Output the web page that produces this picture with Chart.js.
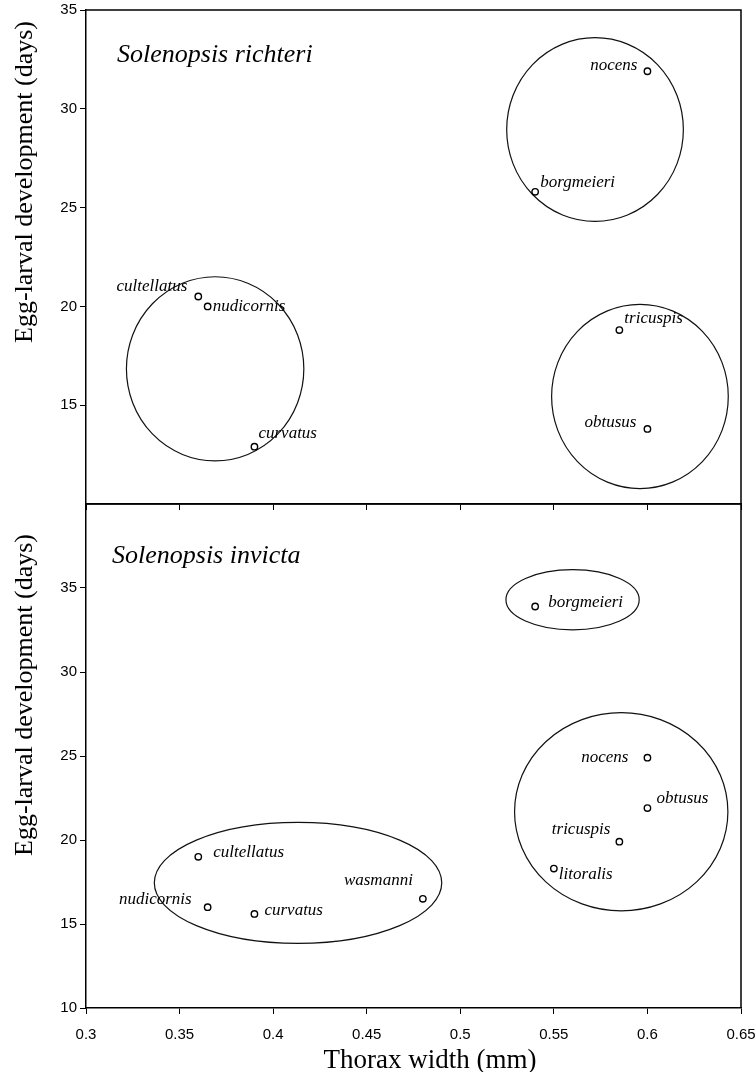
<!DOCTYPE html>
<html>
<head>
<meta charset="utf-8">
<script src="https://cdn.jsdelivr.net/npm/chart.js@4.4.1/dist/chart.umd.min.js"></script>
<style>
  html, body { margin: 0; padding: 0; background: #fff; }
  #wrap { position: relative; width: 756px; height: 1072px; overflow: hidden; }
  canvas { position: absolute; left: 0; }
  #richteriChart { top: 0; }
  #invictaChart { top: 494px; }
</style>
</head>
<body>
<div id="wrap">
  <canvas id="richteriChart" width="756" height="520"></canvas>
  <canvas id="invictaChart" width="756" height="578"></canvas>
</div>
<script>
// Solenopsis richteri (top panel)
const richteriSpecies = ['cultellatus', 'nudicornis', 'curvatus', 'nocens', 'borgmeieri', 'tricuspis', 'obtusus'];
const richteriThorax = [0.36, 0.365, 0.39, 0.6, 0.54, 0.585, 0.6];
const richteriDays = [20.5, 20.0, 12.9, 31.9, 25.8, 18.8, 13.8];

// groups circled in the top panel (centre and radii in data units)
const richteriGroupX = [0.369, 0.572, 0.596];
const richteriGroupY = [16.84, 28.95, 15.44];
const richteriGroupRx = [0.0474, 0.0472, 0.0472];
const richteriGroupRy = [4.66, 4.65, 4.66];

// Solenopsis invicta (bottom panel)
const invictaSpecies = ['borgmeieri', 'nocens', 'obtusus', 'tricuspis', 'litoralis', 'wasmanni', 'cultellatus', 'nudicornis', 'curvatus'];
const invictaThorax = [0.54, 0.6, 0.6, 0.585, 0.55, 0.48, 0.36, 0.365, 0.39];
const invictaDays = [33.9, 24.9, 21.9, 19.9, 18.3, 16.5, 19.0, 16.0, 15.6];

const invictaGroupX = [0.560, 0.586, 0.4133];
const invictaGroupY = [34.3, 21.68, 17.45];
const invictaGroupRx = [0.0356, 0.057, 0.0768];
const invictaGroupRy = [1.79, 5.9, 3.6];

const xTicks = [0.3, 0.35, 0.4, 0.45, 0.5, 0.55, 0.6, 0.65];
const richteriYTicks = [15, 20, 25, 30, 35];
const invictaYTicks = [10, 15, 20, 25, 30, 35];

// label placement next to each point (pixels)
const richteriLabelDx = [-11, 5, 4, -10, 5, 5, -11];
const richteriLabelDy = [-10, 0, -13, -6, -9, -12, -6];
const richteriLabelAlign = ['right', 'left', 'left', 'right', 'left', 'left', 'right'];

const invictaLabelDx = [13, -19, 9, -9, 5, -10, 15, -16, 10];
const invictaLabelDy = [-4, 0, -10, -12, 6, -18, -4, -8, -3];
const invictaLabelAlign = ['left', 'right', 'left', 'right', 'left', 'right', 'left', 'right', 'left'];

Chart.defaults.font.family = '"Liberation Sans", Arial, sans-serif';
Chart.defaults.font.size = 15;
Chart.defaults.color = '#000';

const serif = '"Liberation Serif", "Times New Roman", serif';

const panelDecor = {
    id: 'panelDecor',
    beforeDatasetsDraw(chart, args, opts) {
        const ctx = chart.ctx;
        const xs = chart.scales.x;
        const ys = chart.scales.y;
        ctx.save();
        ctx.strokeStyle = '#111';
        ctx.lineWidth = 1.2;
        opts.gx.forEach((gx, i) => {
            const cx = xs.getPixelForValue(gx);
            const cy = ys.getPixelForValue(opts.gy[i]);
            const rx = xs.getPixelForValue(gx + opts.grx[i]) - cx;
            const ry = cy - ys.getPixelForValue(opts.gy[i] + opts.gry[i]);
            ctx.beginPath();
            ctx.ellipse(cx, cy, rx, ry, 0, 0, Math.PI * 2);
            ctx.stroke();
        });
        ctx.restore();
    },
    afterDatasetsDraw(chart, args, opts) {
        const ctx = chart.ctx;
        const area = chart.chartArea;
        const meta = chart.getDatasetMeta(0);
        ctx.save();

        // frame: top and right sides
        ctx.strokeStyle = '#000';
        ctx.lineWidth = 1.5;
        ctx.beginPath();
        ctx.moveTo(area.left, area.top);
        ctx.lineTo(area.right, area.top);
        ctx.lineTo(area.right, area.bottom);
        ctx.stroke();

        // species names
        ctx.fillStyle = '#000';
        ctx.font = 'italic 17px ' + serif;
        ctx.textBaseline = 'middle';
        meta.data.forEach((pt, i) => {
            ctx.textAlign = opts.align[i];
            ctx.fillText(opts.names[i], pt.x + opts.dx[i], pt.y + opts.dy[i]);
        });

        // panel title
        ctx.font = 'italic 26px ' + serif;
        ctx.textAlign = 'left';
        ctx.fillText(opts.title, area.left + opts.titleDx, area.top + opts.titleDy);

        // y axis title
        ctx.font = '26px ' + serif;
        ctx.textAlign = 'center';
        ctx.translate(25, area.top + opts.yTitleDy);
        ctx.rotate(-Math.PI / 2);
        ctx.fillText('Egg-larval development (days)', 0, 0);
        ctx.restore();

        if (opts.xTitle) {
            ctx.save();
            ctx.font = '27px ' + serif;
            ctx.textAlign = 'center';
            ctx.textBaseline = 'middle';
            ctx.fillText(opts.xTitle, 430, area.bottom + 53);
            ctx.restore();
        }
    }
};

function makePanel(canvasId, cfg) {
    return new Chart(document.getElementById(canvasId), {
        type: 'scatter',
        data: {
            datasets: [{
                data: cfg.xs.map((x, i) => ({ x: x, y: cfg.ys[i] })),
                pointRadius: 3.2,
                pointBorderWidth: 1.4,
                pointBorderColor: '#000',
                pointBackgroundColor: '#fff'
            }]
        },
        options: {
            responsive: false,
            animation: false,
            devicePixelRatio: 1,
            layout: { padding: { top: 10, right: 15, bottom: 0, left: 0 } },
            scales: {
                x: {
                    type: 'linear',
                    min: 0.3,
                    max: 0.65,
                    afterBuildTicks: scale => {
                        scale.ticks = xTicks.map(v => ({ value: v }));
                    },
                    afterFit: scale => {
                        scale.height = cfg.xHeight;
                        scale.paddingLeft = 0;
                        scale.paddingRight = 0;
                    },
                    ticks: {
                        display: cfg.showX,
                        padding: 12,
                        maxRotation: 0,
                        callback: v => Number(v.toFixed(2)).toString()
                    },
                    grid: { drawOnChartArea: false, drawTicks: true, tickLength: 6, color: '#000' },
                    border: { display: true, color: '#000', width: 1.5 }
                },
                y: {
                    type: 'linear',
                    min: cfg.yMin,
                    max: cfg.yMax,
                    afterBuildTicks: scale => {
                        scale.ticks = cfg.yTicks.map(v => ({ value: v }));
                    },
                    afterFit: scale => {
                        scale.width = 86;
                        scale.paddingTop = 0;
                        scale.paddingBottom = 0;
                    },
                    ticks: { padding: 3 },
                    grid: { drawOnChartArea: false, drawTicks: true, tickLength: 6, color: '#000' },
                    border: { display: true, color: '#000', width: 1.5 }
                }
            },
            plugins: {
                legend: { display: false },
                tooltip: { enabled: false },
                panelDecor: {
                    names: cfg.names,
                    dx: cfg.dx,
                    dy: cfg.dy,
                    align: cfg.align,
                    gx: cfg.gx, gy: cfg.gy, grx: cfg.grx, gry: cfg.gry,
                    title: cfg.title,
                    titleDx: cfg.titleDx,
                    titleDy: cfg.titleDy,
                    yTitleDy: cfg.yTitleDy,
                    xTitle: cfg.xTitle
                }
            }
        },
        plugins: [panelDecor]
    });
}

makePanel('richteriChart', {
    xs: richteriThorax, ys: richteriDays, names: richteriSpecies,
    dx: richteriLabelDx, dy: richteriLabelDy, align: richteriLabelAlign,
    gx: richteriGroupX, gy: richteriGroupY, grx: richteriGroupRx, gry: richteriGroupRy,
    yMin: 10, yMax: 35, yTicks: richteriYTicks,
    xHeight: 16, showX: false,
    title: 'Solenopsis richteri', titleDx: 31, titleDy: 45,
    yTitleDy: 172, xTitle: null
});

makePanel('invictaChart', {
    xs: invictaThorax, ys: invictaDays, names: invictaSpecies,
    dx: invictaLabelDx, dy: invictaLabelDy, align: invictaLabelAlign,
    gx: invictaGroupX, gy: invictaGroupY, grx: invictaGroupRx, gry: invictaGroupRy,
    yMin: 10, yMax: 40, yTicks: invictaYTicks,
    xHeight: 64, showX: true,
    title: 'Solenopsis invicta', titleDx: 26, titleDy: 52,
    yTitleDy: 191, xTitle: 'Thorax width (mm)'
});
</script>
</body>
</html>
